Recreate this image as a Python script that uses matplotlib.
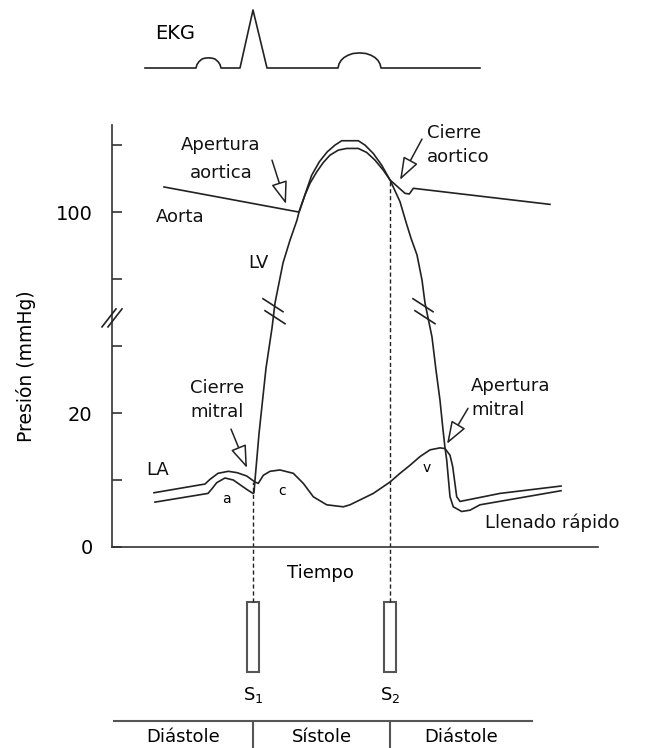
from matplotlib.patches import Rectangle
import matplotlib.pyplot as plt
import numpy as np

plt.rcParams["font.family"] = ["DejaVu Sans"]

# ---------------------- 数据 ----------------------
# 时间为任意单位 (0-486)，压力单位 mmHg
AORTA_T = [52, 187, 193, 198, 204.7, 211.3, 218, 226.3, 234.7, 246.3, 254.7,
           263, 271.3, 278, 293, 297.3, 301.3, 438]
AORTA_P = [107.5, 100, 105.1, 108.6, 112.0, 114.8, 117.0, 118.5, 119.0, 119.0,
           117.8, 115.5, 112.5, 109.6, 105.6, 105.4, 107.1, 102.3]

LV_T = [43, 96, 100, 104.7, 113, 121.3, 128, 134.7, 141, 142, 143, 147, 154,
        160, 163, 171, 178, 185, 187, 194, 199.7, 207.3, 215.3, 223, 229.7,
        246.3, 253, 261.3, 269.7, 278, 288, 294, 299, 305, 310, 313, 320, 324,
        328, 331, 333, 334.7, 338, 341.3, 349.7, 358, 368, 449]
LV_P = [6.7, 8.0, 8.7, 9.6, 10.3, 10.0, 9.3, 8.6, 8.0, 8.1, 10.0, 16.9, 26.7,
        43.4, 62.1, 84.8, 91.6, 97.6, 100, 106.1, 111.0, 115.0, 118.0, 120.0,
        121.3, 121.3, 120.0, 117.5, 114.0, 109.6, 103.1, 97.0, 92.2, 87.2,
        79.3, 62.1, 36.7, 26.4, 21.9, 17.5, 14.8, 13.0, 7.5, 6.0, 5.3, 5.5,
        6.3, 8.4]

LA_T = [42, 93, 98, 106, 116.3, 125, 134.7, 143, 146.3, 151.3, 158, 168,
        181.3, 191.3, 201.3, 214.7, 231.3, 238, 261.3, 278, 288, 298, 308,
        318, 328, 333, 338, 340.7, 344.7, 348, 364.7, 388, 449]
LA_P = [8.1, 9.4, 10.1, 11.0, 11.3, 11.1, 10.6, 9.7, 9.5, 10.7, 11.3, 11.5,
        11.0, 9.5, 7.5, 6.3, 6.0, 6.3, 8.0, 9.7, 11.0, 12.2, 13.5, 14.5, 14.8,
        14.7, 13.7, 12.0, 7.5, 6.8, 7.3, 8.0, 9.1]

EKG_T = [33, 84, 85, 87, 90, 93, 96.5, 100, 103, 106, 108, 109, 128, 141, 155,
         226, 227, 229, 232, 236, 241, 247.5, 254, 259, 263, 266, 268, 269, 368]
EKG_MV = [0, 0, 0.06, 0.11, 0.155, 0.17, 0.175, 0.17, 0.155, 0.11, 0.06, 0,
          0, 1.0, 0,
          0, 0.07, 0.13, 0.18, 0.22, 0.25, 0.26, 0.25, 0.22, 0.18, 0.13, 0.07,
          0, 0]

# 心音时刻与时相
S1_T = 141
S2_T = 278
PHASE_EDGES = [1, S1_T, S2_T, 421]
PHASE_NAMES = ["Diástole", "Sístole", "Diástole"]

# 断轴刻度：0-30 mmHg 与 80-130 mmHg
BREAK_MMHG = [0, 30, 80, 130]
BREAK_AXIS = [0, 3, 4, 6.5]
TICK_MMHG = [0, 10, 20, 30, 80, 100, 120]
TICK_LABELS = ["0", "", "20", "", "", "100", ""]

LINE_COLOR = "#222222"
TEXT_COLOR = "#111111"
LW = 1.2
PX_PER_UNIT = 67  # 纵轴每单位像素


def to_axis(p):
    return np.interp(p, BREAK_MMHG, BREAK_AXIS)


def add_break_marks(ax, t0, d0, dx, dy, sep_x, sep_y):
    """画两道平行短斜线（参数为像素）"""
    for k in (-0.5, 0.5):
        ct = t0 + k * sep_x
        cd = d0 - k * sep_y / PX_PER_UNIT
        ax.plot([ct - dx / 2, ct + dx / 2],
                [cd + dy / 2 / PX_PER_UNIT, cd - dy / 2 / PX_PER_UNIT],
                color=LINE_COLOR, lw=LW, clip_on=False, zorder=4)


fig = plt.figure(figsize=(6.54, 7.48), dpi=100)

# ---------------------- 压力曲线 ----------------------
ax = fig.add_axes([112 / 654, 201 / 748, 486 / 654, 422 / 748])
ax.set_xlim(0, 486)
ax.set_ylim(0, 6.3)
ax.plot(AORTA_T, to_axis(AORTA_P), color=LINE_COLOR, lw=LW)
ax.plot(LV_T, to_axis(LV_P), color=LINE_COLOR, lw=LW)
ax.plot(LA_T, to_axis(LA_P), color=LINE_COLOR, lw=LW)

dash = (0, (3, 2))
ax.vlines(S1_T, 0, to_axis(9.7), color=LINE_COLOR, lw=1, linestyles=[dash])
ax.vlines(S2_T, 0, to_axis(109.6), color=LINE_COLOR, lw=1, linestyles=[dash])

for side in ["top", "right"]:
    ax.spines[side].set_visible(False)
for side in ["left", "bottom"]:
    ax.spines[side].set_linewidth(LW)
    ax.spines[side].set_color("#333333")

ax.set_yticks(to_axis(TICK_MMHG))
ax.set_yticklabels(TICK_LABELS)
ax.tick_params(axis="y", direction="in", length=7.2, width=LW,
               labelsize=14, pad=14, color="#333333")
ax.tick_params(axis="x", bottom=False, labelbottom=False)
ax.set_xlabel("Tiempo", fontsize=13)
ax.xaxis.set_label_coords((320 - 112) / 486, -0.04)
ax.set_ylabel("Presión (mmHg)", fontsize=13.5)
ax.yaxis.set_label_coords(-0.156, 0.429)

# 断轴标记
add_break_marks(ax, 0, 3.42, 14, -18, 6, 0)
add_break_marks(ax, 162, to_axis(56), 20, 13, 2, 12)
add_break_marks(ax, 312, to_axis(56), 20, 13, 2, 12)

# 文字标注
txt = dict(fontsize=13, color=TEXT_COLOR)
ax.text(109, to_axis(115.8), "Apertura\naortica", ha="center", va="center",
        linespacing=1.7, **txt)
ax.text(315, to_axis(120), "Cierre\naortico", ha="left", va="center",
        linespacing=1.45, **txt)
ax.text(68, to_axis(98.5), "Aorta", ha="center", va="center", **txt)
ax.text(146, to_axis(84.8), "LV", ha="center", va="center", **txt)
ax.text(105, to_axis(21.9), "Cierre\nmitral", ha="center", va="center",
        linespacing=1.45, **txt)
ax.text(359, to_axis(22.2), "Apertura\nmitral", ha="left", va="center",
        linespacing=1.45, **txt)
ax.text(46, to_axis(11.5), "LA", ha="center", va="center", **txt)
ax.text(373, to_axis(3.6), "Llenado rápido", ha="left", va="center", **txt)
ax.text(114, to_axis(7.2), "a", ha="center", va="center", fontsize=10)
ax.text(170, to_axis(8.4), "c", ha="center", va="center", fontsize=10)
ax.text(315, to_axis(11.8), "v", ha="center", va="center", fontsize=10)

arrow = dict(arrowstyle="-|>,head_length=0.7,head_width=0.25",
             fc="white", ec=LINE_COLOR, lw=1.1, shrinkA=0, shrinkB=0,
             mutation_scale=20)
ax.annotate("", xy=(174, to_axis(102.4)), xytext=(160, to_axis(115.5)),
            arrowprops=arrow)
ax.annotate("", xy=(288, to_axis(109.6)), xytext=(310, to_axis(121.8)),
            arrowprops=arrow)
ax.annotate("", xy=(135, to_axis(11.8)), xytext=(119, to_axis(17.6)),
            arrowprops=arrow)
ax.annotate("", xy=(335, to_axis(15.4)), xytext=(356, to_axis(20.7)),
            arrowprops=arrow)

# ---------------------- EKG ----------------------
ax_ekg = fig.add_axes([112 / 654, 658 / 748, 486 / 654, 90 / 748])
ax_ekg.set_xlim(0, 486)
ax_ekg.set_ylim(-0.379, 1.172)
ax_ekg.plot(EKG_T, EKG_MV, color=LINE_COLOR, lw=LW)
ax_ekg.text(63, 0.603, "EKG", ha="center", va="center", fontsize=14)
ax_ekg.axis("off")

# ---------------------- 心音与时相 ----------------------
ax_low = fig.add_axes([112 / 654, 0, 486 / 654, 201 / 748])
ax_low.set_xlim(0, 486)
ax_low.set_ylim(0, 1)
for t, name in [(S1_T, "S$_1$"), (S2_T, "S$_2$")]:
    ax_low.vlines(t, 0.726, 1.0, color=LINE_COLOR, lw=1, linestyles=[dash])
    ax_low.add_patch(Rectangle((t - 6, 0.378), 12, 0.348, fill=False,
                               ec="#555555", lw=1.5))
    ax_low.text(t, 0.264, name, ha="center", va="center", fontsize=13)

ax_low.hlines(0.134, PHASE_EDGES[0], PHASE_EDGES[-1], color="#555555", lw=1.5)
ax_low.vlines(PHASE_EDGES[1:-1], 0, 0.134, color="#555555", lw=1.5)
for left, right, name in zip(PHASE_EDGES[:-1], PHASE_EDGES[1:], PHASE_NAMES):
    ax_low.text((left + right) / 2, 0.028, name, ha="center", va="baseline",
                fontsize=13)
ax_low.axis("off")

fig.savefig("out.png", dpi=100)
